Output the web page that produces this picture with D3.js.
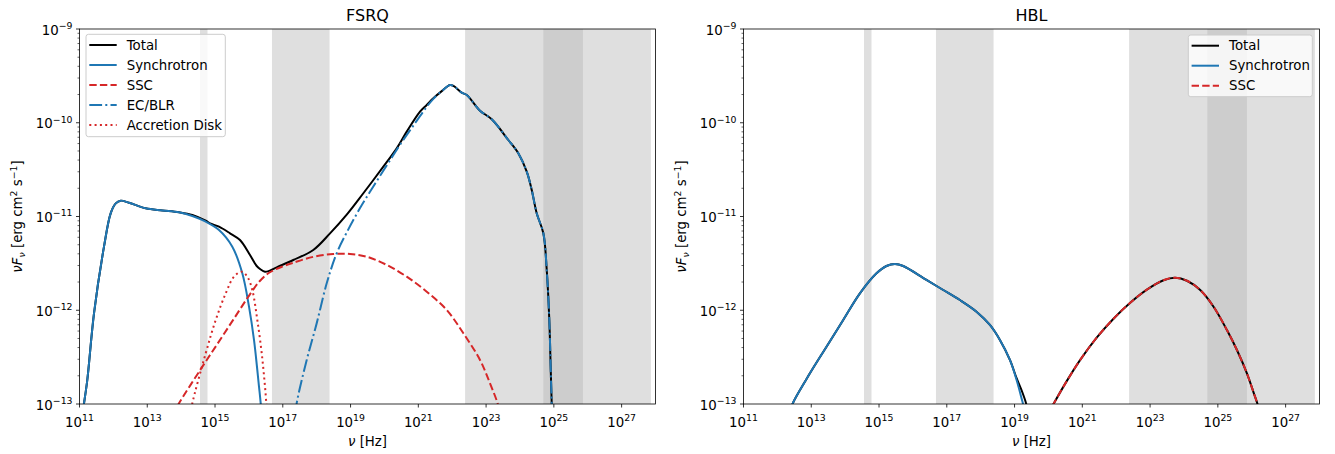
<!DOCTYPE html>
<html><head><meta charset="utf-8">
<script src="https://cdn.jsdelivr.net/npm/d3@7"></script>
<style>body{margin:0;background:#fff} text{font-family:"DejaVu Sans",sans-serif;fill:#000}</style>
</head><body><svg id="c" width="1335" height="454"></svg>
<script>
// ---------- data (log10 nu [Hz], log10 nuFnu [erg cm^2 s^-1]) ----------
const xTickExps = [11,13,15,17,19,21,23,25,27];
const yTickExps = [-13,-12,-11,-10,-9];
const panelTitles = ["FSRQ","HBL"];
// observing bands [nu_min, nu_max] in Hz: optical, X-ray, Fermi-LAT, CTA
const bandLo = [3.6e14, 4.8e16, 2.4e22, 4.9e24];
const bandHi = [6.0e14, 2.4e18, 7.2e25, 7.3e27];

const fsrqTotal = [[11.09,-13.1],[11.133,-12.993],[11.23,-12.744],[11.428,-12.033],[11.723,-11.322],[11.92,-10.966],[12.07,-10.86],[12.216,-10.831],[12.46,-10.853],[12.954,-10.913],[13.45,-10.935],[13.937,-10.955],[14.33,-10.984],[14.725,-11.045],[14.852,-11.073],[15.117,-11.109],[15.442,-11.179],[15.737,-11.251],[16.032,-11.411],[16.23,-11.528],[16.348,-11.565],[16.475,-11.589],[16.56,-11.585],[16.82,-11.542],[17.31,-11.464],[17.9,-11.357],[18.394,-11.18],[18.887,-10.98],[19.377,-10.752],[19.967,-10.469],[20.362,-10.273],[20.658,-10.095],[21.05,-9.882],[21.248,-9.81],[21.443,-9.739],[21.7,-9.66],[21.936,-9.597],[22.05,-9.61],[22.28,-9.679],[22.43,-9.704],[22.82,-9.871],[23.167,-9.963],[23.656,-10.184],[23.951,-10.326],[24.2,-10.522],[24.347,-10.717],[24.494,-10.966],[24.69,-11.179],[24.79,-11.571],[24.866,-12.104],[24.908,-12.637],[24.937,-12.993],[24.945,-13.1]];
const fsrqSyn = [[11.09,-13.1],[11.133,-12.993],[11.23,-12.744],[11.428,-12.033],[11.723,-11.322],[11.92,-10.966],[12.07,-10.86],[12.216,-10.831],[12.46,-10.853],[12.954,-10.913],[13.45,-10.935],[13.937,-10.955],[14.33,-10.995],[14.725,-11.055],[15.117,-11.144],[15.51,-11.322],[15.805,-11.606],[16.003,-11.962],[16.15,-12.317],[16.298,-12.815],[16.348,-12.993],[16.37,-13.1]];
const fsrqSSC = [[13.9,-13.02],[13.937,-12.993],[14.557,-12.64],[15.05,-12.37],[15.54,-12.10],[16.03,-11.83],[16.33,-11.685],[16.62,-11.595],[17.015,-11.53],[17.31,-11.493],[17.9,-11.43],[18.49,-11.40],[18.984,-11.40],[19.477,-11.429],[20.07,-11.517],[20.658,-11.642],[21.248,-11.802],[21.838,-11.997],[22.33,-12.246],[22.82,-12.53],[23.116,-12.78],[23.34,-12.993],[23.38,-13.06]];
const fsrqEC = [[17.38,-13.1],[17.41,-12.993],[17.706,-12.53],[18.0,-12.14],[18.296,-11.713],[18.59,-11.393],[18.887,-11.17],[19.28,-10.91],[19.672,-10.68],[20.067,-10.455],[20.46,-10.235],[20.853,-10.03],[21.248,-9.83],[21.443,-9.745],[21.7,-9.66],[21.936,-9.597],[22.05,-9.61],[22.28,-9.679],[22.43,-9.704],[22.82,-9.871],[23.167,-9.963],[23.656,-10.184],[23.951,-10.326],[24.2,-10.522],[24.347,-10.717],[24.494,-10.966],[24.69,-11.179],[24.79,-11.571],[24.866,-12.104],[24.908,-12.637],[24.937,-12.993],[24.945,-13.1]];
const fsrqDisk = [[14.30,-13.06],[14.33,-12.993],[14.725,-12.459],[15.02,-12.104],[15.315,-11.82],[15.56,-11.642],[15.79,-11.589],[15.953,-11.642],[16.1,-11.784],[16.248,-12.104],[16.378,-12.459],[16.475,-12.815],[16.514,-12.993],[16.53,-13.06]];

const hblSyn = [[12.42,-13.05],[12.446,-13.0],[12.96,-12.673],[13.45,-12.389],[13.943,-12.104],[14.436,-11.82],[14.926,-11.606],[15.22,-11.528],[15.469,-11.507],[15.714,-11.528],[16.4,-11.677],[16.895,-11.784],[17.387,-11.891],[17.877,-12.015],[18.273,-12.157],[18.568,-12.317],[18.863,-12.53],[19.06,-12.744],[19.2,-12.93],[19.25,-13.0],[19.27,-13.05]];
const hblSSC = [[20.12,-13.02],[20.15,-13.0],[20.5,-12.78],[20.938,-12.53],[21.43,-12.29],[21.92,-12.09],[22.414,-11.92],[22.906,-11.78],[23.397,-11.68],[23.742,-11.653],[24.087,-11.685],[24.48,-11.784],[24.873,-11.962],[25.268,-12.211],[25.563,-12.424],[25.858,-12.673],[26.053,-12.876],[26.17,-13.0],[26.19,-13.03]];
const hblTotal = [[12.42,-13.05],[12.446,-13.0],[12.96,-12.673],[13.45,-12.389],[13.943,-12.104],[14.436,-11.82],[14.926,-11.606],[15.22,-11.528],[15.469,-11.507],[15.714,-11.528],[16.4,-11.677],[16.895,-11.784],[17.387,-11.891],[17.877,-12.015],[18.273,-12.157],[18.568,-12.317],[18.863,-12.53],[19.06,-12.725],[19.235,-12.88],[19.344,-13.0],[19.36,-13.05],[19.7,null],
  [20.12,-13.02],[20.15,-13.0],[20.5,-12.78],[20.938,-12.53],[21.43,-12.29],[21.92,-12.09],[22.414,-11.92],[22.906,-11.78],[23.397,-11.68],[23.742,-11.653],[24.087,-11.685],[24.48,-11.784],[24.873,-11.962],[25.268,-12.211],[25.563,-12.424],[25.858,-12.673],[26.053,-12.876],[26.17,-13.0],[26.19,-13.03]];

const fsrqSeries = [
  {name:"Total", data:fsrqTotal, color:"#000000", dash:null},
  {name:"Synchrotron", data:fsrqSyn, color:"#1f77b4", dash:null},
  {name:"SSC", data:fsrqSSC, color:"#d62728", dash:"7.4,3.2"},
  {name:"EC/BLR", data:fsrqEC, color:"#1f77b4", dash:"12.8,3.2,2,3.2"},
  {name:"Accretion Disk", data:fsrqDisk, color:"#d62728", dash:"2,3.3"}
];
const hblSeries = [
  {name:"Total", data:hblTotal, color:"#000000", dash:null},
  {name:"Synchrotron", data:hblSyn, color:"#1f77b4", dash:null},
  {name:"SSC", data:hblSSC, color:"#d62728", dash:"7.4,3.2"}
];

// ---------- drawing ----------
const svg = d3.select("#c");
const Y0 = 29, Y1 = 404;
const LW = 2;
const panels = [
  {x0:79.5, x1:655.5, title:panelTitles[0], series:fsrqSeries, legend:{x:86, y:34.3, w:139.3, h:102.4}, ylabX:22},
  {x0:743.5, x1:1319.5, title:panelTitles[1], series:hblSeries, legend:{x:1188.3, y:35, w:124, h:61.7}, ylabX:686}
];

function sup(textSel, base, exp, fs) {
  textSel.append("tspan").text(base);
  textSel.append("tspan").attr("font-size", fs*0.7).attr("dy", -fs*0.42).text(exp);
}

panels.forEach((p, pi) => {
  const x = d3.scaleLog().domain([1e11, 1e28]).range([p.x0, p.x1]);
  const y = d3.scaleLog().domain([1e-13, 1e-9]).range([Y1, Y0]);
  const g = svg.append("g");
  const clipId = "clip" + pi;
  svg.append("clipPath").attr("id", clipId).append("rect")
    .attr("x", p.x0).attr("y", Y0).attr("width", p.x1 - p.x0).attr("height", Y1 - Y0);

  // bands
  const bands = bandLo.map((lo, i) => [lo, bandHi[i]]);
  g.append("g").attr("clip-path", `url(#${clipId})`).selectAll("rect").data(bands).join("rect")
    .attr("x", d => x(d[0])).attr("width", d => x(d[1]) - x(d[0]))
    .attr("y", Y0).attr("height", Y1 - Y0)
    .attr("fill", "#b4b4b4").attr("fill-opacity", 0.43);

  // curves
  const line = d3.line()
    .defined(d => d[1] !== null)
    .x(d => x(Math.pow(10, d[0])))
    .y(d => y(Math.pow(10, d[1])))
    .curve(d3.curveCatmullRom.alpha(0.5));
  const lg = g.append("g").attr("clip-path", `url(#${clipId})`);
  p.series.forEach(s => {
    lg.append("path").attr("d", line(s.data)).attr("fill", "none")
      .attr("stroke", s.color).attr("stroke-width", LW)
      .attr("stroke-dasharray", s.dash).attr("stroke-linejoin", "round");
  });

  // axes frame
  g.append("rect").attr("x", p.x0).attr("y", Y0).attr("width", p.x1 - p.x0).attr("height", Y1 - Y0)
    .attr("fill", "none").attr("stroke", "#000").attr("stroke-width", 0.8);

  // x ticks
  xTickExps.forEach(e => {
    const xx = x(Math.pow(10, e));
    g.append("line").attr("x1", xx).attr("x2", xx).attr("y1", Y1).attr("y2", Y1 + 3.5)
      .attr("stroke", "#000").attr("stroke-width", 0.8);
    const t = g.append("text").attr("x", xx).attr("y", 427).attr("text-anchor", "middle").attr("font-size", 13.33);
    sup(t, "10", String(e), 13.33);
  });
  // y ticks
  yTickExps.forEach(e => {
    const yy = y(Math.pow(10, e));
    g.append("line").attr("x1", p.x0 - 3.5).attr("x2", p.x0).attr("y1", yy).attr("y2", yy)
      .attr("stroke", "#000").attr("stroke-width", 0.8);
    const t = g.append("text").attr("x", p.x0 - 7).attr("y", yy + 5.5).attr("text-anchor", "end").attr("font-size", 13.33);
    sup(t, "10", "\u2212" + (-e), 13.33);
    if (e < -9) {
      for (let m = 2; m <= 9; m++) {
        const ym = y(m * Math.pow(10, e));
        g.append("line").attr("x1", p.x0 - 2).attr("x2", p.x0).attr("y1", ym).attr("y2", ym)
          .attr("stroke", "#000").attr("stroke-width", 0.6);
      }
    }
  });

  // title
  g.append("text").attr("x", (p.x0 + p.x1) / 2).attr("y", 21).attr("text-anchor", "middle")
    .attr("font-size", 16).text(p.title);
  // x label
  const xl = g.append("text").attr("x", (p.x0 + p.x1) / 2).attr("y", 446).attr("text-anchor", "middle").attr("font-size", 13.33);
  xl.append("tspan").attr("font-style", "italic").text("\u03bd");
  xl.append("tspan").text(" [Hz]");
  // y label
  const yl = g.append("text").attr("transform", `translate(${p.ylabX},${(Y0 + Y1) / 2}) rotate(-90)`)
    .attr("text-anchor", "middle").attr("font-size", 13.33);
  yl.append("tspan").attr("font-style", "italic").text("\u03bdF");
  yl.append("tspan").attr("font-style", "italic").attr("font-size", 9.3).attr("dy", 3).text("\u03bd");
  yl.append("tspan").attr("dy", -3).text(" [erg cm");
  yl.append("tspan").attr("font-size", 9.3).attr("dy", -5.5).text("2");
  yl.append("tspan").attr("dy", 5.5).text(" s");
  yl.append("tspan").attr("font-size", 9.3).attr("dy", -5.5).text("\u22121");
  yl.append("tspan").attr("dy", 5.5).text("]");

  // legend
  const L = p.legend;
  const lgd = g.append("g");
  lgd.append("rect").attr("x", L.x).attr("y", L.y).attr("width", L.w).attr("height", L.h)
    .attr("rx", 2.5).attr("fill", "#fff").attr("fill-opacity", 0.8)
    .attr("stroke", "#cccccc").attr("stroke-width", 1);
  p.series.forEach((s, i) => {
    const ly = L.y + 10.7 + i * 20;
    lgd.append("line").attr("x1", L.x + 3.3).attr("x2", L.x + 30.7).attr("y1", ly).attr("y2", ly)
      .attr("stroke", s.color).attr("stroke-width", LW).attr("stroke-dasharray", s.dash);
    lgd.append("text").attr("x", L.x + 40.7).attr("y", ly + 4.7).attr("font-size", 13.33).text(s.name);
  });
});
</script></body></html>
